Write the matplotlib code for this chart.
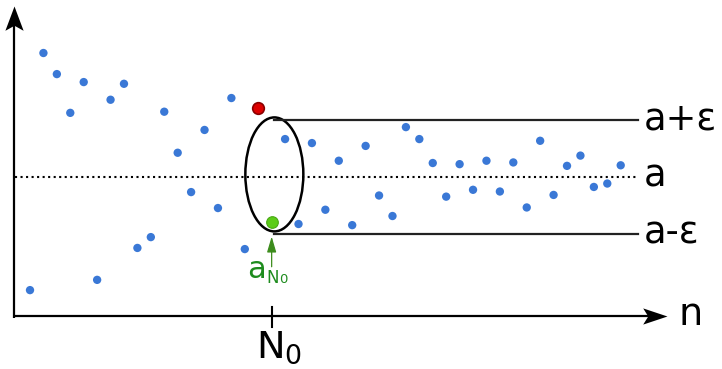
import matplotlib
matplotlib.use("Agg")
import matplotlib.pyplot as plt
from matplotlib.patches import Ellipse
from matplotlib.path import Path
import numpy as np

plt.rcParams['font.family'] = ['DejaVu Sans']
plt.rcParams['mathtext.default'] = 'regular'

# ---- data ----
n_values = list(range(1, 46))
seq_values = [-1.99, 2.17, 1.80, 1.12, 1.66, -1.81, 1.35, 1.63, -1.25, -1.06,
              1.14, 0.42, -0.27, 0.82, -0.55, 1.38, -1.27, 1.21, -0.79, 0.66,
              -0.83, 0.59, -0.58, 0.28, -0.85, 0.54, -0.33, -0.69, 0.87, 0.66,
              0.24, -0.35, 0.22, -0.23, 0.28, -0.26, 0.25, -0.54, 0.63, -0.32,
              0.19, 0.37, -0.18, -0.12, 0.20]
limit_a = 0.0
epsilon = 1.0
outlier_n = 18
N0 = 19
band_labels = ["a+ε", "a", "a-ε"]

fig = plt.figure(figsize=(7.22, 3.69), dpi=100)
ax = fig.add_axes([0, 0, 1, 1])
ax.set_xlim(-1.235, 52.545)
ax.set_ylim(-3.374, 3.100)
ax.axis('off')

# arrowhead markers (tip at origin)
head = Path([(0, 0), (-24, 8), (-19, 0), (-24, -8), (0, 0)],
            [Path.MOVETO, Path.LINETO, Path.LINETO, Path.LINETO, Path.CLOSEPOLY])
head_up = Path([(0, 0), (9, -24), (0, -19), (-9, -24), (0, 0)],
               [Path.MOVETO, Path.LINETO, Path.LINETO, Path.LINETO, Path.CLOSEPOLY])

x_axis_y = -2.444
y_axis_x = -0.192
ax.plot([y_axis_x, 47.2], [x_axis_y, x_axis_y], color='black', lw=1.6, solid_capstyle='butt')
ax.plot([y_axis_x, y_axis_x], [x_axis_y - 0.03, 2.8], color='black', lw=1.6, solid_capstyle='butt')
ax.plot([48.45], [x_axis_y], marker=head, markersize=35, color='black', markeredgewidth=0)
ax.plot([y_axis_x], [3.0], marker=head_up, markersize=35, color='black', markeredgewidth=0)

# dotted limit line
ax.plot([-0.118, 46.29], [limit_a, limit_a], color='black', lw=1.5, linestyle=':')

# band lines
ell_cx = N0 + 0.2
for lvl in (limit_a + epsilon, limit_a - epsilon):
    ax.plot([ell_cx, 46.29], [lvl, lvl], color='#222222', lw=1.6)

# ellipse
ax.add_patch(Ellipse((ell_cx, limit_a + 0.04), width=4.32, height=2 * epsilon,
                     fill=False, edgecolor='black', lw=1.8))

# points
n_arr = np.array(n_values)
v_arr = np.array(seq_values)
mask = (n_arr != outlier_n) & (n_arr != N0)
ax.scatter(n_arr[mask], v_arr[mask], s=36, color='#3a78d6', edgecolors='none', zorder=3)
ax.scatter(n_arr[n_arr == outlier_n], v_arr[n_arr == outlier_n], s=70, color='#dd0000',
           edgecolors='#8a0000', linewidths=1.2, zorder=4)
ax.scatter(n_arr[n_arr == N0], v_arr[n_arr == N0], s=70, color='#5ccc18',
           edgecolors='#49a814', linewidths=0.8, zorder=4)

# labels at right
fs = 26.5
for lbl, lvl in zip(band_labels, [limit_a + epsilon, limit_a, limit_a - epsilon]):
    ax.text(46.72, lvl - 0.18, lbl, fontsize=fs, ha='left', va='baseline', color='black')
ax.text(49.3, -2.60, "n", fontsize=27.5, ha='left', va='baseline', color='black')

# N0 tick and label
ax.plot([N0, N0], [x_axis_y + 0.16, x_axis_y - 0.19], color='black', lw=1.5)
ax.text(N0 - 1.15, -3.18, r"$\mathregular{N_0}$", fontsize=27.5, ha='left', va='baseline')

# green annotation
ax.annotate("", xy=(N0, -1.05), xytext=(N0, -1.58),
            arrowprops=dict(arrowstyle='-|>,head_length=0.95,head_width=0.28',
                            color='#3c8c1c', lw=0.9, shrinkA=0, shrinkB=0,
                            mutation_scale=10))
green_txt = '#1e8c1e'
ax.text(17.2, -1.777, "a", fontsize=22, color=green_txt, ha='left', va='baseline')
ax.text(18.58, -1.865, "N", fontsize=12, color=green_txt, ha='left', va='baseline')
ax.text(19.55, -1.865, "0", fontsize=9.5, color=green_txt, ha='left', va='baseline')

fig.savefig("out.png", dpi=100)
